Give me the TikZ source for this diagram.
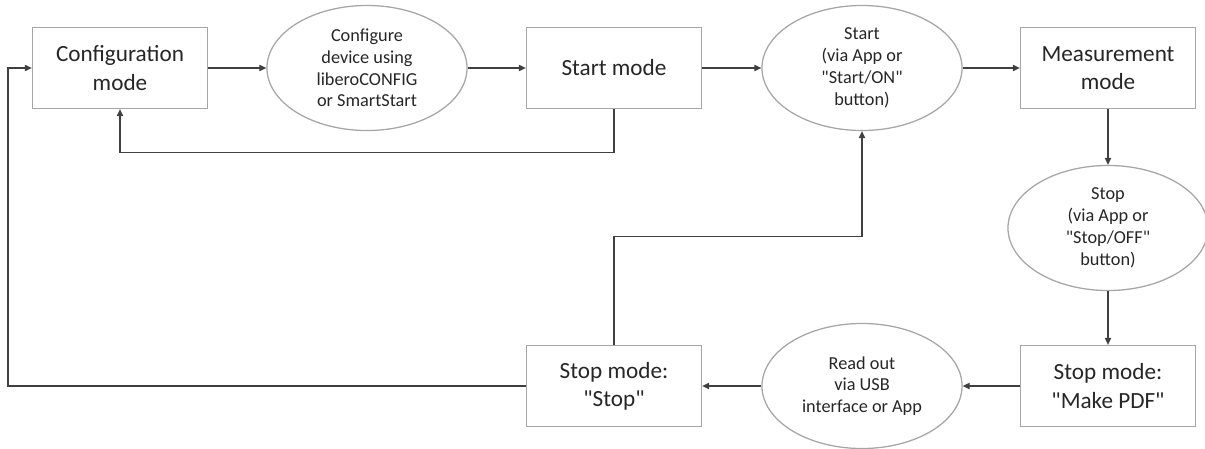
\documentclass[tikz,border=0pt]{standalone}
\usepackage{fontspec}
\setmainfont{Carlito}[Ligatures=TeXOff]
\usetikzlibrary{shapes.geometric,arrows.meta}
\definecolor{edgegrey}{HTML}{A6A6A6}
\definecolor{linegrey}{HTML}{404040}
\definecolor{txtgrey}{HTML}{262626}
\tikzset{
  modebox/.style={draw=edgegrey, line width=0.9pt, minimum width=4.375cm, minimum height=2.025cm,
    align=center, font=\fontsize{16.5}{20}\selectfont, text=txtgrey},
  actoval/.style={draw=edgegrey, line width=0.9pt, ellipse, minimum width=5cm, minimum height=3.125cm,
    inner sep=0pt, align=center, font=\fontsize{13}{15.5}\selectfont, text=txtgrey},
  flow/.style={draw=linegrey, line width=0.8pt, -{Triangle[length=5pt,width=4.5pt]}},
}
\begin{document}
\begin{tikzpicture}[x=0.025cm, y=-0.025cm]
   \useasboundingbox (0,0) rectangle (1205,448);

   % top row
   \node [modebox] (config) at (120,68) {Configuration\\mode};
   \node [actoval] (configure) at (367,68) {Configure\\device using\\liberoCONFIG\\or SmartStart};
   \node [modebox] (startmode) at (614,68) {Start mode};
   \node [actoval] (start) at (862,68) {Start\\(via App or\\"Start/ON"\\button)};
   \node [modebox] (measure) at (1108,68) {Measurement\\mode};

   % right side and bottom row
   \node [actoval] (stop) at (1108,228) {Stop\\(via App or\\"Stop/OFF"\\button)};
   \node [modebox] (makepdf) at (1108,386) {Stop mode:\\"Make PDF"};
   \node [actoval] (readout) at (862,386) {Read out\\via USB\\interface or App};
   \node [modebox] (stopmode) at (614,386) {Stop mode:\\"Stop"};
   \coordinate (leftrail) at (8,386);

   \draw [flow] (config) -- (configure);
   \draw [flow] (configure) -- (startmode);
   \draw [flow] (startmode) -- (start);
   \draw [flow] (start) -- (measure);
   \draw [flow] (measure) -- (stop);
   \draw [flow] (stop) -- (makepdf);
   \draw [flow] (makepdf) -- (readout);
   \draw [flow] (readout) -- (stopmode);

   % loops back
   \draw [flow] (startmode.south) -- ++(0,43) -| (config.south);
   \draw [flow] (stopmode.north) -- ++(0,-108) -| (start.south);
   \draw [flow] (stopmode.west) -- (leftrail) |- (config.west);
\end{tikzpicture}
\end{document}
